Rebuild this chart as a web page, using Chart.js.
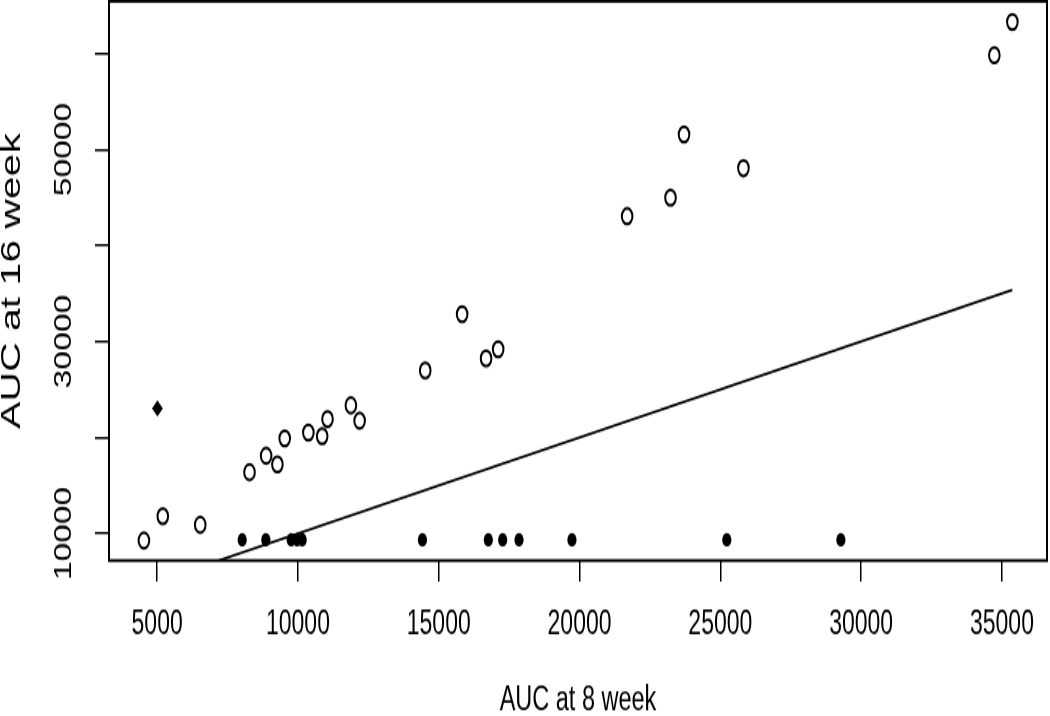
<!DOCTYPE html>
<html lang="en">
<head>
<meta charset="UTF-8" />
<title>AUC at 8 week vs AUC at 16 week</title>
<script src="https://cdn.jsdelivr.net/npm/chart.js"></script>
<style>
  body { margin: 0; background: #fff; }
  canvas { display: block; }
</style>
</head>
<body>
<!-- drawn at 1050x490 and stretched to 716 tall, like the reference picture -->
<canvas id="chart" width="1050" height="490" style="width:1050px;height:716px"></canvas>
<script>
// open circles
const openX = [4530, 5200, 6530, 8280, 8870, 9270, 9530, 10370, 10860, 11050, 11880, 12190,
               14520, 15830, 16680, 17110, 21690, 23230, 23710, 25820, 34730, 35370];
const openY = [9270, 11800, 10910, 16390, 18100, 17200, 19910, 20530, 20150, 21920, 23350, 21750,
               27000, 32840, 28250, 29190, 43060, 45000, 51580, 48060, 59840, 63290];

// filled dots along the bottom
const filledX = [8020, 8860, 9760, 9970, 10150, 14420, 16760, 17270, 17850, 19730, 25230, 29280];
const filledY = [9340, 9340, 9340, 9340, 9340, 9340, 9340, 9340, 9340, 9340, 9340, 9340];

// the single diamond
const diamondX = [5010];
const diamondY = [23030];

// identity line y = x
const lineX = [7185, 35370];
const lineY = [7185, 35370];

// axes
const xRange = [3290, 36600];
const yRange = [7185, 65440];
const xTicks = [5000, 10000, 15000, 20000, 25000, 30000, 35000];
const xLabels = ['5000', '10000', '15000', '20000', '25000', '30000', '35000'];
const yTicks = [10000, 20000, 30000, 40000, 50000, 60000];
const yLabels = ['10000', '', '30000', '', '50000', ''];

const pts = (xs, ys) => xs.map((x, i) => ({ x: x, y: ys[i] }));

const boxPlugin = {
  id: 'box',
  afterDraw(chart) {
    const { ctx, chartArea: a } = chart;
    ctx.save();
    ctx.strokeStyle = '#000';
    ctx.lineWidth = 2;
    ctx.strokeRect(a.left, a.top, a.right - a.left, a.bottom - a.top);
    ctx.restore();
  }
};

Chart.defaults.color = '#000';
Chart.defaults.font.family = '"Liberation Sans", Arial, sans-serif';

const ctx = document.getElementById('chart').getContext('2d');
new Chart(ctx, {
  type: 'scatter',
  data: {
    datasets: [
      {
        data: pts(lineX, lineY),
        showLine: true,
        pointRadius: 0,
        borderColor: '#000',
        borderWidth: 1.7
      },
      {
        data: pts(openX, openY),
        pointStyle: 'circle',
        pointRadius: 5.3,
        borderWidth: 2,
        borderColor: '#000',
        backgroundColor: 'rgba(0,0,0,0)'
      },
      {
        data: pts(filledX, filledY),
        pointStyle: 'circle',
        pointRadius: 4.6,
        borderWidth: 0,
        backgroundColor: '#000'
      },
      {
        data: pts(diamondX, diamondY),
        pointStyle: 'rectRot',
        pointRadius: 5.4,
        borderWidth: 0,
        backgroundColor: '#000'
      }
    ]
  },
  options: {
    responsive: false,
    devicePixelRatio: 1,
    animation: false,
    layout: { autoPadding: false, padding: { top: 0.9, right: 3, left: 0, bottom: 0 } },
    plugins: { legend: { display: false }, tooltip: { enabled: false } },
    scales: {
      x: {
        type: 'linear',
        min: xRange[0],
        max: xRange[1],
        border: { display: false },
        grid: { drawOnChartArea: false, drawTicks: true, tickLength: 14.4, color: '#000', lineWidth: 1.5 },
        ticks: { font: { size: 23 }, padding: 15.5, maxRotation: 0, autoSkip: false,
                 callback: (v, i) => xLabels[i] },
        title: {
          display: true,
          text: 'AUC at 8 week',
          font: { size: 23.5, lineHeight: 1 },
          padding: { top: 0, bottom: -1.5 }
        },
        afterBuildTicks: s => { s.ticks = xTicks.map(v => ({ value: v })); },
        afterFit: s => { s.height = 106.4; s.paddingLeft = 0; s.paddingRight = 0; }
      },
      y: {
        type: 'linear',
        min: yRange[0],
        max: yRange[1],
        border: { display: false },
        grid: { drawOnChartArea: false, drawTicks: true, tickLength: 14, color: '#000', lineWidth: 1.5 },
        ticks: {
          font: { size: 23 },
          padding: -2,
          crossAlign: 'center',
          minRotation: 90,
          maxRotation: 90,
          autoSkip: false,
          callback: (v, i) => yLabels[i]
        },
        title: {
          display: true,
          text: 'AUC at 16 week',
          font: { size: 28, lineHeight: 1 },
          padding: { top: -2, bottom: 0 }
        },
        afterBuildTicks: s => { s.ticks = yTicks.map(v => ({ value: v })); },
        afterFit: s => { s.width = 109; s.paddingTop = 0; s.paddingBottom = 0; }
      }
    }
  },
  plugins: [boxPlugin]
});
</script>
</body>
</html>
